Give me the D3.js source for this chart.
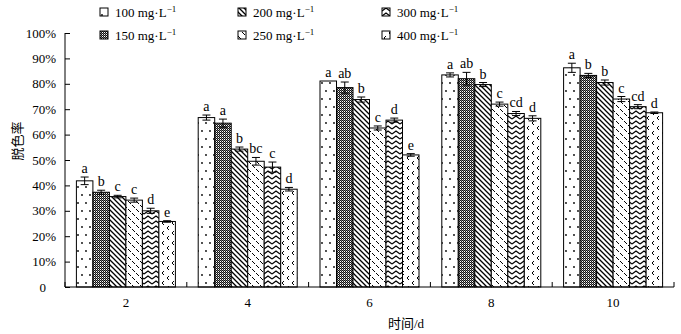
<!DOCTYPE html>
<html lang="zh">
<head>
<meta charset="utf-8">
<script src="https://d3js.org/d3.v7.min.js"></script>
<style>
  body { margin: 0; background: #fff; }
  text { font-family: "Times New Roman", "Liberation Serif", "Noto Sans CJK SC", serif; fill: #000; }
</style>
</head>
<body>
<script>
// categories and series
const days = ["2", "4", "6", "8", "10"];
const concs = ["100", "150", "200", "250", "300", "400"];

// decolorization rate (%) per concentration, one value per day
const v100 = [41.8, 66.7, 81.1, 83.5, 86.3];
const v150 = [37.3, 64.5, 78.5, 82.0, 83.3];
const v200 = [35.6, 54.3, 73.8, 79.7, 80.5];
const v250 = [34.2, 49.5, 62.6, 72.0, 74.0];
const v300 = [30.0, 47.2, 65.7, 68.3, 71.0];
const v400 = [25.8, 38.5, 52.0, 66.4, 68.6];

// error bars (±)
const e100 = [1.5, 1.0, 0.0, 0.8, 1.8];
const e150 = [0.8, 1.6, 2.2, 2.5, 0.8];
const e200 = [0.5, 0.8, 1.0, 0.8, 1.0];
const e250 = [0.8, 1.5, 0.8, 0.8, 1.0];
const e300 = [1.0, 2.0, 0.8, 0.8, 0.8];
const e400 = [0.3, 0.7, 0.5, 1.0, 0.3];

// significance letters
const l100 = ["a", "a", "a", "a", "a"];
const l150 = ["b", "a", "ab", "ab", "b"];
const l200 = ["c", "b", "b", "b", "b"];
const l250 = ["c", "bc", "c", "c", "c"];
const l300 = ["d", "c", "d", "cd", "cd"];
const l400 = ["e", "d", "e", "d", "d"];

const yTicks = [0, 10, 20, 30, 40, 50, 60, 70, 80, 90, 100];

const vals = [v100, v150, v200, v250, v300, v400];
const errs = [e100, e150, e200, e250, e300, e400];
const lets = [l100, l150, l200, l250, l300, l400];

const W = 681, H = 334;
const svg = d3.select("body").append("svg")
  .attr("width", W).attr("height", H);

// ---- fill patterns ----
const defs = svg.append("defs");
function pat(id, w, h) {
  const p = defs.append("pattern").attr("id", id)
    .attr("patternUnits", "userSpaceOnUse")
    .attr("width", w).attr("height", h);
  p.append("rect").attr("width", w).attr("height", h).attr("fill", "#fff");
  return p;
}
// 100: sparse dots
let p = pat("p100", 8, 16);
p.append("circle").attr("cx", 2).attr("cy", 3).attr("r", 0.9).attr("fill", "#000");
p.append("circle").attr("cx", 6).attr("cy", 11).attr("r", 0.9).attr("fill", "#000");
// 150: fine dark checker
p = pat("p150", 2, 2);
p.append("rect").attr("x", 0).attr("y", 0).attr("width", 1).attr("height", 1).attr("fill", "#111");
p.append("rect").attr("x", 1).attr("y", 1).attr("width", 1).attr("height", 1).attr("fill", "#111");
p.append("rect").attr("x", 1).attr("y", 0).attr("width", 1).attr("height", 1).attr("fill", "#777");
// 200: diagonal lines
p = pat("p200", 5, 5);
p.append("path").attr("d", "M0,0L5,5M-1,4L1,6M4,-1L6,1")
  .attr("stroke", "#000").attr("stroke-width", 1.3);
// 250: short dashed diagonals
p = pat("p250", 8, 8);
p.append("path").attr("d", "M0,1L3,4M4,5L7,8")
  .attr("stroke", "#000").attr("stroke-width", 1);
// 300: zigzag waves
p = pat("p300", 8, 5);
p.append("path").attr("d", "M0,4L4,1L8,4")
  .attr("fill", "none").attr("stroke", "#000").attr("stroke-width", 1.2);
// 400: small chevrons
p = pat("p400", 10, 10);
p.append("path").attr("d", "M4,1L2,3L4,5M9,6L7,8L9,10")
  .attr("fill", "none").attr("stroke", "#000").attr("stroke-width", 1);

// ---- scales ----
const x0 = d3.scaleBand().domain(days).range([65, 674]);
const inner = 11.4;
const x1 = d3.scaleBand().domain(concs).range([inner, x0.bandwidth() - inner]);
const y = d3.scaleLinear().domain([0, 100]).range([287, 33]);

// ---- bars ----
const rows = [];
concs.forEach((c, si) => {
  days.forEach((d, di) => {
    rows.push({ c: c, si: si, d: d, v: vals[si][di], e: errs[si][di], l: lets[si][di] });
  });
});

const g = svg.append("g");
g.selectAll("rect.bar").data(rows).enter().append("rect")
  .attr("class", "bar")
  .attr("x", r => x0(r.d) + x1(r.c))
  .attr("y", r => y(r.v))
  .attr("width", x1.bandwidth())
  .attr("height", r => y(0) - y(r.v))
  .attr("fill", r => "url(#p" + r.c + ")")
  .attr("stroke", "#000").attr("stroke-width", 1);

// error bars
const eb = g.selectAll("g.err").data(rows.filter(r => r.e > 0)).enter().append("g")
  .attr("class", "err")
  .attr("transform", r => "translate(" + (x0(r.d) + x1(r.c) + x1.bandwidth() / 2) + ",0)");
eb.append("line")
  .attr("y1", r => y(r.v + r.e)).attr("y2", r => y(r.v - r.e))
  .attr("stroke", "#000");
eb.append("line").attr("x1", -4).attr("x2", 4)
  .attr("y1", r => y(r.v + r.e)).attr("y2", r => y(r.v + r.e)).attr("stroke", "#000");
eb.append("line").attr("x1", -4).attr("x2", 4)
  .attr("y1", r => y(r.v - r.e)).attr("y2", r => y(r.v - r.e)).attr("stroke", "#000");

// letters
g.selectAll("text.sig").data(rows).enter().append("text")
  .attr("class", "sig")
  .attr("x", r => x0(r.d) + x1(r.c) + x1.bandwidth() / 2)
  .attr("y", r => y(r.v + r.e) - 4)
  .attr("text-anchor", "middle")
  .attr("font-size", 14)
  .text(r => r.l);

// ---- axes ----
const yAxis = svg.append("g").attr("transform", "translate(65,0)")
  .call(d3.axisRight(y).tickValues(yTicks).tickSize(5)
    .tickFormat(d => d === 0 ? "0" : d + "%"));
yAxis.select(".domain").attr("d", "M0,33V287");
yAxis.selectAll(".tick text")
  .attr("x", d => d === 0 ? -19 : -9)
  .attr("text-anchor", "end")
  .attr("font-size", 13)
  .attr("font-family", null);

const xAxis = svg.append("g").attr("transform", "translate(0,287)");
xAxis.append("line").attr("x1", 65).attr("x2", 674).attr("stroke", "#000");
xAxis.selectAll("line.tk").data(x0.domain().concat(["end"])).enter().append("line")
  .attr("class", "tk")
  .attr("x1", (d, i) => 65 + i * x0.step()).attr("x2", (d, i) => 65 + i * x0.step())
  .attr("y1", 0).attr("y2", -5).attr("stroke", "#000");
xAxis.selectAll("text").data(days).enter().append("text")
  .attr("x", d => x0(d) + x0.bandwidth() / 2)
  .attr("y", 20)
  .attr("text-anchor", "middle")
  .attr("font-size", 13)
  .text(d => d);

// axis titles
svg.append("text")
  .attr("x", 406).attr("y", 328)
  .attr("text-anchor", "middle").attr("font-size", 13)
  .text("时间/d");
svg.append("text")
  .attr("transform", "translate(22,141) rotate(-90)")
  .attr("text-anchor", "middle").attr("font-size", 13)
  .text("脱色率");

// ---- legend (column-major) ----
const legX = [100, 238, 382];
const legY = [12, 35];
const leg = svg.append("g").selectAll("g").data(concs).enter().append("g")
  .attr("transform", (c, i) => "translate(" + legX[Math.floor(i / 2)] + "," + legY[i % 2] + ")");
leg.append("rect")
  .attr("x", 0).attr("y", -4).attr("width", 8).attr("height", 8)
  .attr("fill", c => "url(#p" + c + ")")
  .attr("stroke", "#000");
const lt = leg.append("text").attr("x", 15).attr("y", 5).attr("font-size", 13);
lt.append("tspan").text(c => c + " mg·L");
lt.append("tspan").attr("dy", -5).attr("font-size", 9).text("−1");
</script>
</body>
</html>
